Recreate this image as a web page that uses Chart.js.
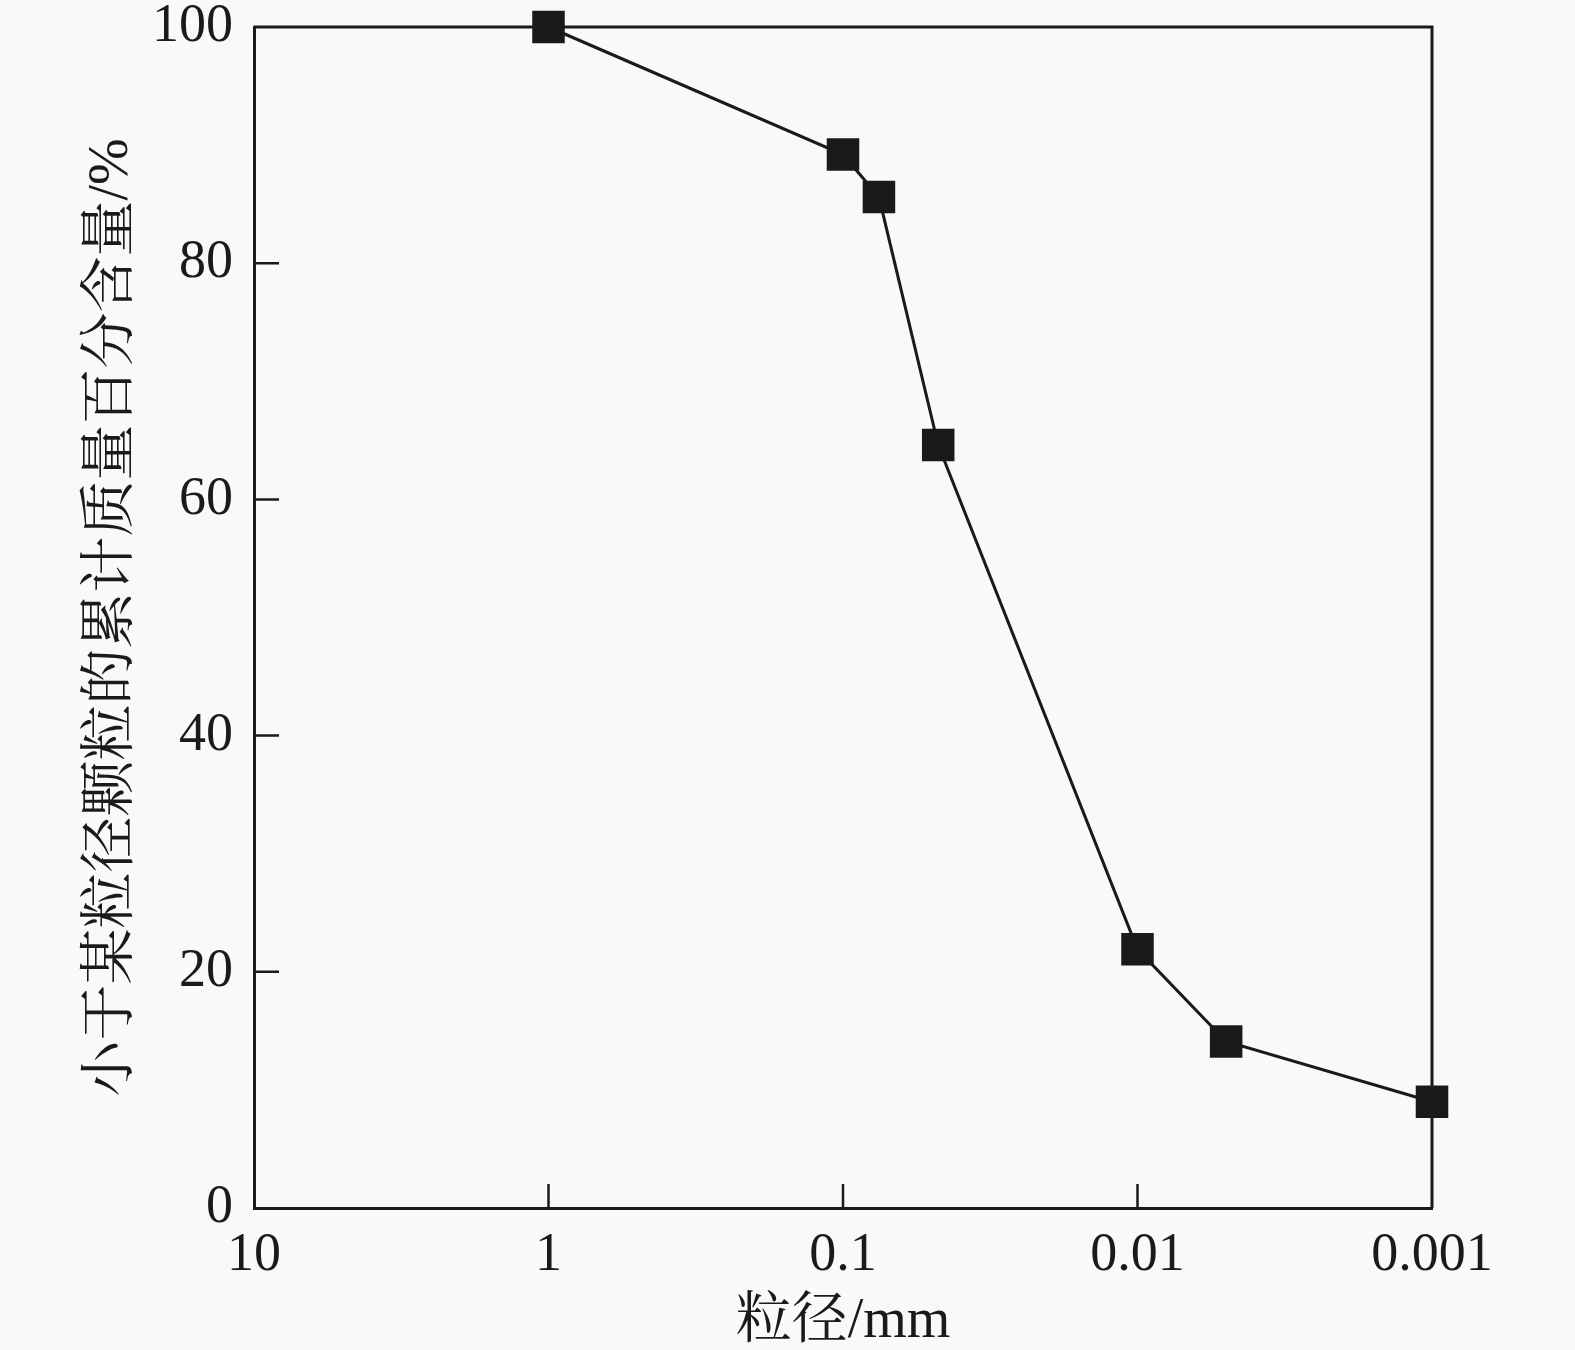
<!DOCTYPE html>
<html>
<head>
<meta charset="utf-8">
<script src="https://cdn.jsdelivr.net/npm/chart.js@4.4.1/dist/chart.umd.min.js"></script>
<style>
  html, body { margin:0; padding:0; background:#f9f9f9; }
  #wrap { width:1575px; height:1350px; }
</style>
</head>
<body>
<div id="wrap"><canvas id="chart" width="1575" height="1350"></canvas></div>
<script>
// particle size (mm) and cumulative mass percentage finer than that size
const sizes   = [1, 0.1, 0.0755, 0.0475, 0.01, 0.005, 0.001];
const percent = [100, 89.2, 85.6, 64.6, 21.9, 14.1, 9.0];
const xTicks  = [10, 1, 0.1, 0.01, 0.001];
const yTicks  = [0, 20, 40, 60, 80, 100];

const ink = '#1a1a1a';
const serif = "'Liberation Serif', 'Noto Serif CJK SC', 'Noto Sans CJK SC', serif";

// short ticks drawn inside the frame
const innerTicks = {
  id:'innerTicks',
  afterDatasetsDraw(c){
    const {ctx, chartArea:a, scales:{x, y}} = c;
    ctx.save();
    ctx.strokeStyle = ink;
    ctx.lineWidth = 2.5;
    ctx.beginPath();
    xTicks.slice(1, -1).forEach(v => {
      const px = x.getPixelForValue(v);
      ctx.moveTo(px, a.bottom); ctx.lineTo(px, a.bottom - 24);
    });
    yTicks.slice(1, -1).forEach(v => {
      const py = y.getPixelForValue(v);
      ctx.moveTo(a.left, py); ctx.lineTo(a.left + 25, py);
    });
    ctx.stroke();
    // right and top frame
    ctx.lineWidth = 3;
    ctx.beginPath();
    ctx.moveTo(a.left, a.top); ctx.lineTo(a.right, a.top); ctx.lineTo(a.right, a.bottom);
    ctx.stroke();
    ctx.restore();
  }
};

new Chart(document.getElementById('chart'), {
  type:'scatter',
  data:{ datasets:[{
    data: sizes.map((s, i) => ({ x:s, y:percent[i] })),
    showLine:true,
    borderColor:ink, borderWidth:3,
    pointStyle:'rect', pointRadius:23, pointHoverRadius:23,
    pointBackgroundColor:ink, pointBorderColor:ink, pointBorderWidth:0,
    clip:false
  }]},
  options:{
    responsive:false, devicePixelRatio:1, animation:false,
    layout:{ padding:{ left:0, top:27, right:143, bottom:0 } },
    plugins:{ legend:{ display:false }, tooltip:{ enabled:false } },
    scales:{
      x:{
        type:'logarithmic', reverse:true, min:0.001, max:10,
        afterBuildTicks(s){ s.ticks = xTicks.map(v => ({ value:v })); },
        afterFit(s){ s.height = 142; s.paddingLeft = 0; s.paddingRight = 0; },
        grid:{ display:false, drawTicks:false },
        border:{ display:true, color:ink, width:3 },
        ticks:{ color:ink, padding:21, maxRotation:0, autoSkip:false,
          font:{ family:serif, size:54, lineHeight:1 },
          callback:v => String(v) },
        title:{ display:true, text:'粒径/mm', color:ink,
          font:{ family:serif, size:56, lineHeight:1 }, padding:{ top:0, bottom:0 } }
      },
      y:{
        min:0, max:100,
        afterBuildTicks(s){ s.ticks = yTicks.map(v => ({ value:v })); },
        afterFit(s){ s.width = 254; s.paddingTop = 0; s.paddingBottom = 0; },
        grid:{ display:false, drawTicks:false },
        border:{ display:true, color:ink, width:3 },
        ticks:{ color:ink, padding:21,
          font:{ family:serif, size:54, lineHeight:1 } },
        title:{ display:true, text:'小于某粒径颗粒的累计质量百分含量/%', color:ink,
          font:{ family:serif, size:56, lineHeight:1 }, padding:{ top:84, bottom:0 } }
      }
    }
  },
  plugins:[innerTicks]
});
</script>
</body>
</html>
